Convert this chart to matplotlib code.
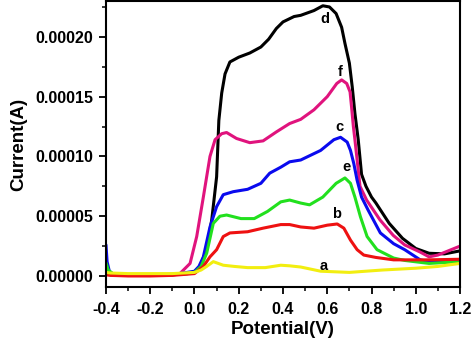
import matplotlib
matplotlib.use('Agg')
import matplotlib.pyplot as plt
import numpy as np
from matplotlib.ticker import MultipleLocator, FormatStrFormatter

plt.rcParams['font.family'] = ['Liberation Sans', 'DejaVu Sans']
plt.rcParams['font.weight'] = 'bold'

# potential (V) and current (x1e-5 A)
V_a = [-0.40, -0.38, -0.30, -0.20, -0.10, 0.00, 0.03, 0.055, 0.085, 0.13, 0.18, 0.24, 0.32,
       0.39, 0.43, 0.48, 0.57, 0.70, 0.85, 1.00, 1.10, 1.20]
I_a = [0.3, 0.25, 0.2, 0.2, 0.2, 0.3, 0.5, 0.8, 1.2, 0.9, 0.8, 0.7, 0.7,
       0.9, 0.85, 0.75, 0.4, 0.3, 0.5, 0.65, 0.8, 1.05]

V_b = [-0.40, -0.38, -0.30, -0.20, -0.10, 0.00, 0.04, 0.07, 0.10, 0.13, 0.16, 0.24, 0.31,
       0.39, 0.43, 0.48, 0.54, 0.60, 0.645, 0.675, 0.705, 0.735, 0.765, 0.82, 0.90, 0.95,
       1.06, 1.20]
I_b = [0.1, 0.05, 0.0, 0.0, 0.05, 0.2, 0.8, 1.6, 2.2, 3.3, 3.6, 3.7, 4.0,
       4.3, 4.3, 4.1, 4.0, 4.25, 4.35, 4.0, 3.0, 2.2, 1.75, 1.55, 1.35, 1.35,
       1.35, 1.4]

V_c = [-0.40, -0.395, -0.385, -0.37, -0.30, -0.20, -0.10, 0.00, 0.02, 0.04, 0.07, 0.10, 0.13,
       0.175, 0.24, 0.30, 0.34, 0.39, 0.43, 0.48, 0.57, 0.63, 0.66, 0.69, 0.705, 0.72, 0.735,
       0.755, 0.785, 0.84, 0.90, 0.95, 1.02, 1.06, 1.20]
I_c = [2.6, 1.2, 0.4, 0.2, 0.1, 0.05, 0.1, 0.4, 0.8, 1.6, 4.1, 5.8, 6.8,
       7.05, 7.25, 7.75, 8.6, 9.1, 9.55, 9.7, 10.5, 11.4, 11.6, 11.2, 10.5, 9.4, 8.0,
       6.6, 5.5, 3.6, 2.7, 2.2, 1.35, 1.2, 1.35]

V_d = [-0.40, -0.38, -0.30, -0.20, -0.10, -0.03, 0.00, 0.025, 0.055, 0.078, 0.10, 0.11, 0.123,
       0.138, 0.16, 0.20, 0.25, 0.30, 0.335, 0.37, 0.40, 0.45, 0.48, 0.54, 0.58, 0.61, 0.64,
       0.665, 0.68, 0.70, 0.713, 0.725, 0.74, 0.755, 0.775, 0.80, 0.82, 0.88, 0.94, 1.00,
       1.06, 1.13, 1.20]
I_d = [0.2, 0.1, 0.05, 0.05, 0.1, 0.2, 0.35, 0.8, 2.2, 4.7, 8.3, 13.0, 15.3,
       16.9, 17.9, 18.3, 18.65, 19.15, 19.8, 20.7, 21.25, 21.7, 21.8, 22.2, 22.6, 22.5, 21.95,
       20.8, 19.45, 17.8, 15.8, 13.6, 11.4, 8.5, 7.5, 6.6, 6.1, 4.4, 3.15, 2.3,
       1.9, 1.85, 2.1]

V_e = [-0.40, -0.39, -0.37, -0.30, -0.20, -0.10, 0.00, 0.03, 0.055, 0.085, 0.115, 0.145, 0.21,
       0.27, 0.33, 0.39, 0.43, 0.48, 0.52, 0.58, 0.64, 0.68, 0.705, 0.725, 0.75, 0.78, 0.825,
       0.90, 0.95, 1.06, 1.20]
I_e = [1.1, 0.5, 0.2, 0.1, 0.05, 0.1, 0.3, 0.8, 1.9, 4.4, 5.0, 5.1, 4.8,
       4.8, 5.4, 6.2, 6.35, 6.1, 5.95, 6.6, 7.75, 8.2, 7.75, 6.6, 4.95, 3.3, 2.2,
       1.5, 1.3, 1.05, 1.2]

V_f = [-0.40, -0.38, -0.30, -0.20, -0.10, -0.066, -0.02, 0.01, 0.04, 0.07, 0.093, 0.123, 0.145,
       0.19, 0.25, 0.31, 0.37, 0.43, 0.48, 0.54, 0.60, 0.643, 0.665, 0.688, 0.703, 0.71, 0.718,
       0.725, 0.748, 0.778, 0.838, 0.898, 0.95, 1.02, 1.06, 1.10, 1.20]
I_f = [0.2, 0.15, 0.1, 0.1, 0.15, 0.2, 1.05, 3.3, 6.6, 10.0, 11.4, 11.9, 12.0,
       11.5, 11.15, 11.3, 12.05, 12.75, 13.1, 13.9, 15.0, 16.1, 16.4, 16.1, 15.4, 14.1, 12.5,
       11.4, 7.5, 6.35, 4.7, 3.4, 2.6, 2.0, 1.6, 1.75, 2.5]

curves = [('d', V_d, I_d, 'black'),
          ('f', V_f, I_f, '#e0137d'),
          ('c', V_c, I_c, '#0a0aee'),
          ('e', V_e, I_e, '#22e01e'),
          ('b', V_b, I_b, '#ee1111'),
          ('a', V_a, I_a, '#f2ee10')]

# label positions (V, x1e-5 A)
lab_pos = {'d': (0.59, 21.5), 'f': (0.658, 17.1), 'c': (0.655, 12.5),
           'e': (0.688, 9.1), 'b': (0.643, 5.2), 'a': (0.585, 0.85)}

fig = plt.figure(figsize=(4.74, 3.52), dpi=100)
ax = fig.add_axes([0.2236, 0.1847, 0.7469, 0.8125])

for name, v, i, col in curves:
    ax.plot(v, np.array(i) * 1e-5, color=col, lw=2.2,
            solid_capstyle='round', solid_joinstyle='round')
    x, y = lab_pos[name]
    ax.text(x, y * 1e-5, name, ha='center', va='center', fontsize=10.5, fontweight='bold')

ax.set_xlim(-0.4, 1.2)
ax.set_ylim(-0.92e-5, 2.3e-4)
ax.xaxis.set_major_locator(MultipleLocator(0.2))
ax.xaxis.set_minor_locator(MultipleLocator(0.1))
ax.yaxis.set_major_locator(MultipleLocator(5e-5))
ax.yaxis.set_minor_locator(MultipleLocator(2.5e-5))
ax.yaxis.set_major_formatter(FormatStrFormatter('%.5f'))
ax.xaxis.set_major_formatter(FormatStrFormatter('%.1f'))
ax.tick_params(which='major', direction='out', length=5, width=1.3, labelsize=11.5, pad=4)
ax.tick_params(axis='x', which='major', pad=6)
ax.tick_params(which='minor', direction='out', length=3, width=1.1)
for s in ax.spines.values():
    s.set_linewidth(1.5)

ax.set_xlabel('Potential(V)', fontsize=13.5, fontweight='bold', labelpad=3)
ax.set_ylabel('Current(A)', fontsize=13.5, fontweight='bold', labelpad=6)

plt.savefig('out.png', dpi=100)
